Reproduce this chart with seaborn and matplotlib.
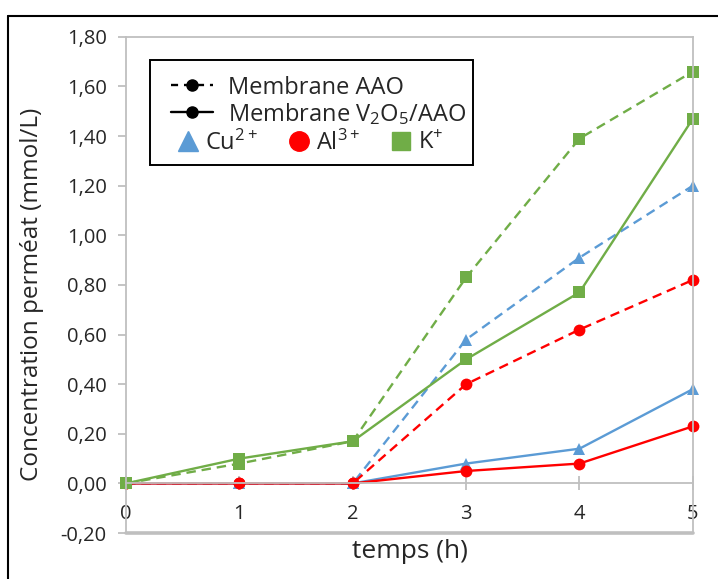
import matplotlib
matplotlib.use("Agg")
import matplotlib.pyplot as plt
import seaborn as sns
import pandas as pd
from matplotlib.lines import Line2D
from matplotlib.patches import Rectangle
from matplotlib.ticker import FuncFormatter

# data
temps = [0, 1, 2, 3, 4, 5]
cu_aao = [0, 0, 0, 0.58, 0.91, 1.20]
al_aao = [0, 0, 0, 0.40, 0.62, 0.82]
k_aao = [0, 0.08, 0.17, 0.83, 1.39, 1.66]
cu_v2o5 = [0, 0, 0, 0.08, 0.14, 0.38]
al_v2o5 = [0, 0, 0, 0.05, 0.08, 0.23]
k_v2o5 = [0, 0.10, 0.17, 0.50, 0.77, 1.47]

sns.set_style("white")
plt.rcParams["font.family"] = ["Open Sans", "DejaVu Sans"]
plt.rcParams["mathtext.default"] = "regular"

blue, red, green = "#5B9BD5", "#FF0000", "#70AD47"
series = [
    (cu_aao, blue, "^", "--"), (al_aao, red, "o", "--"), (k_aao, green, "s", "--"),
    (cu_v2o5, blue, "^", "-"), (al_v2o5, red, "o", "-"), (k_v2o5, green, "s", "-"),
]

fig = plt.figure(figsize=(7.18, 5.79), dpi=100)
ax = fig.add_axes([0.1755, 0.0794, 0.7895, 0.857])

for vals, col, mk, ls in series:
    df = pd.DataFrame({"temps": temps, "c": vals})
    sns.lineplot(data=df, x="temps", y="c", ax=ax, color=col, marker=mk,
                 markersize=8.5, markeredgewidth=0, linewidth=1.7, legend=False)
    line = ax.lines[-1]
    line.set_linestyle(ls)
    if ls == "--":
        line.set_dashes((4, 2.5))
    line.set_clip_on(False)

ax.set_xlim(0, 5)
ax.set_ylim(-0.2, 1.8)
ax.set_yticks([i / 5 for i in range(-1, 10)])
ax.set_xticks(temps)
ax.yaxis.set_major_formatter(FuncFormatter(lambda v, p: f"{v:.2f}".replace(".", ",")))

grey = "#BFBFBF"
for s in ["left", "right", "top", "bottom"]:
    ax.spines[s].set_color(grey)
    ax.spines[s].set_linewidth(1.3)
ax.spines["bottom"].set_position(("data", 0))
ax.axhline(-0.2, color=grey, linewidth=2.6, clip_on=False, zorder=0)
ax.tick_params(axis="y", direction="out", length=6, color=grey, width=1.3,
               labelsize=14.5, pad=8, left=True)
ax.tick_params(axis="x", direction="inout", length=10, color=grey, width=1.3,
               labelsize=14.5, pad=10, bottom=True)

ax.set_xlabel("temps (h)", fontsize=19)
ax.set_ylabel("Concentration perméat (mmol/L)", fontsize=17.5)
ax.xaxis.set_label_coords(0.5, -0.012)
ax.yaxis.set_label_coords(-0.145, 0.48)

# legend: membranes on two rows, ions on a third row
h1 = [Line2D([], [], color="black", linestyle="--", dashes=(3, 2.5), marker="o", markersize=8, linewidth=1.7),
      Line2D([], [], color="black", linestyle="-", marker="o", markersize=8, linewidth=1.7)]
leg1 = ax.legend(h1, ["Membrane AAO", "Membrane V$_2$O$_5$/AAO"], loc="upper left",
                 bbox_to_anchor=(0.05, 0.955), frameon=False, fontsize=17,
                 handlelength=1.8, handletextpad=0.6, labelspacing=0.05, borderpad=0.2)
ax.add_artist(leg1)
h2 = [Line2D([], [], color=blue, linestyle="none", marker="^", markersize=15),
      Line2D([], [], color=red, linestyle="none", marker="o", markersize=14),
      Line2D([], [], color=green, linestyle="none", marker="s", markersize=13)]
ax.legend(h2, ["Cu$^{2+}$", "Al$^{3+}$", "K$^{+}$"], loc="upper left",
          bbox_to_anchor=(0.06, 0.845), frameon=False, fontsize=17, ncol=3,
          handlelength=1.0, handletextpad=0.2, columnspacing=1.25, borderpad=0.2)
ax.add_patch(Rectangle((0.042, 0.742), 0.57, 0.212, transform=ax.transAxes,
                       fill=True, facecolor="white", edgecolor="black", linewidth=1.4, zorder=4))

# outer frame of the picture
fig.add_artist(Line2D([0.011, 1.0], [0.972, 0.972], color="black", linewidth=1.5))
fig.add_artist(Line2D([0.011, 0.011], [0.0, 0.972], color="black", linewidth=1.5))

fig.savefig("out.png", dpi=100)
